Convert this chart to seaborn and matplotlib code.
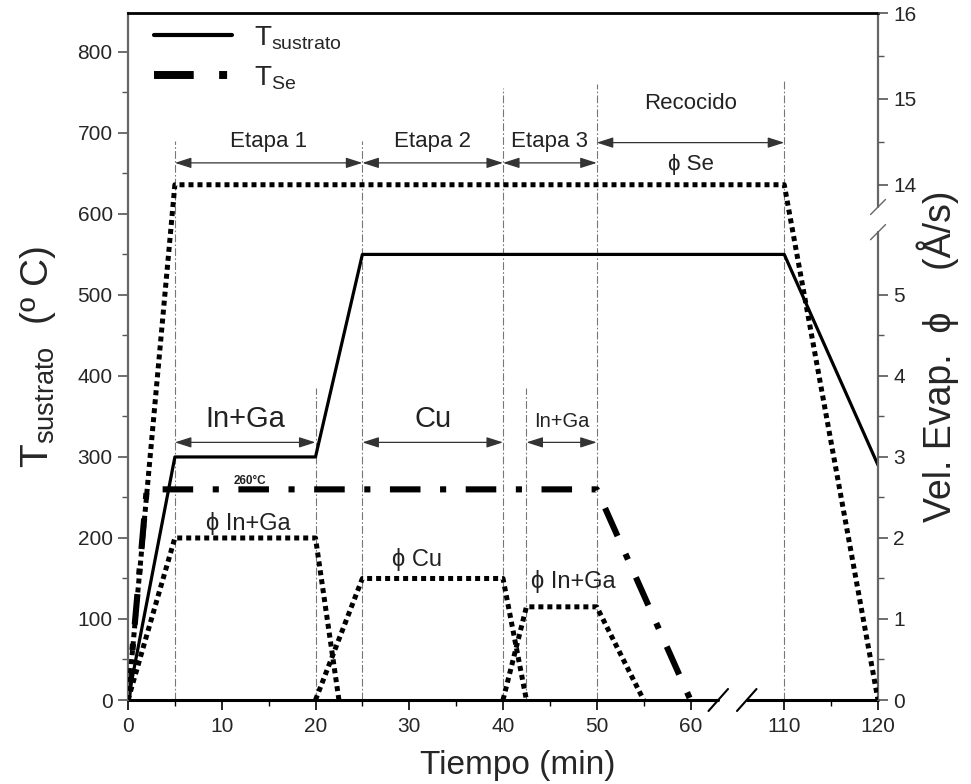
import numpy as np
import matplotlib
matplotlib.use("Agg")
import matplotlib.pyplot as plt
import seaborn as sns

# ---- process profile (time in min) ----
t_sub = [0, 5, 20, 25, 110, 120]
temp_sub = [0, 300, 300, 550, 550, 290]          # substrate temperature (ºC)

t_se_src = [0, 2, 50, 60]
temp_se_src = [0, 260, 260, 0]                   # Se source temperature (ºC)

t_flux_se = [0, 5, 110, 120]
flux_se = [0, 14, 14, 0]                         # Se evaporation rate (Å/s)

t_flux_inga1 = [0, 5, 20, 22.5]
flux_inga1 = [0, 2, 2, 0]                        # In+Ga rate, stage 1

t_flux_cu = [20, 25, 40, 42.5]
flux_cu = [0, 1.5, 1.5, 0]                       # Cu rate, stage 2

t_flux_inga3 = [40, 42.5, 50, 55]
flux_inga3 = [0, 1.15, 1.15, 0]                  # In+Ga rate, stage 3

x_ticks = [0, 10, 20, 30, 40, 50, 60, 110, 120]
x_minor = [5, 15, 25, 35, 45, 55, 115]
left_ticks = [0, 100, 200, 300, 400, 500, 600, 700, 800]
left_minor = [50, 150, 250, 350, 450, 550, 650, 750]
right_ticks = [0, 1, 2, 3, 4, 5, 14, 15, 16]
right_minor = [0.5, 1.5, 2.5, 3.5, 4.5, 14.5, 15.5]

guide_x = [5, 20, 25, 40, 42.5, 50, 110]
guide_top = [690, 385, 690, 755, 385, 760, 765]

stage_labels = ["Etapa 1", "Etapa 2", "Etapa 3"]
stage_start = [5, 25, 40]
stage_end = [25, 40, 50]

source_labels = ["In+Ga", "Cu", "In+Ga"]
source_start = [5, 25, 42.5]
source_end = [20, 40, 50]
source_size = [21, 21, 14.5]

# ---- style ----
sns.set_style("ticks")
plt.rcParams["font.family"] = ["Liberation Sans", "DejaVu Sans"]
plt.rcParams["mathtext.fontset"] = "custom"
plt.rcParams["mathtext.rm"] = "Liberation Sans"
plt.rcParams["mathtext.it"] = "Liberation Sans:italic"
plt.rcParams["mathtext.bf"] = "Liberation Sans:bold"
plt.rcParams["mathtext.sf"] = "Liberation Sans"


# broken time axis: 60-110 min squeezed into one decade
def time_fwd(t):
    t = np.asarray(t, dtype=float)
    return np.where(t <= 60, t, np.where(t >= 110, t - 40, 60 + (t - 60) / 5.0))


def time_inv(u):
    u = np.asarray(u, dtype=float)
    return np.where(u <= 60, u, np.where(u >= 70, u + 40, 60 + (u - 60) * 5.0))


# broken rate axis: 5.5-14 Å/s squeezed
def rate_fwd(v):
    v = np.asarray(v, dtype=float)
    return np.where(v <= 5.5, v * 100.0,
                    np.where(v >= 14, 636 + (v - 14) * 106.0,
                             550 + (v - 5.5) * (86 / 8.5)))


def rate_inv(h):
    h = np.asarray(h, dtype=float)
    return np.where(h <= 550, h / 100.0,
                    np.where(h >= 636, 14 + (h - 636) / 106.0,
                             5.5 + (h - 550) * (8.5 / 86)))


fig = plt.figure(figsize=(9.71, 7.84), dpi=100)
ax = fig.add_axes([128 / 971, 1 - 700 / 784, 750 / 971, 687 / 784])
ax.set_xscale("function", functions=(time_fwd, time_inv))
ax.set_xlim(0, 120)
ax.set_ylim(0, 848)

ax2 = ax.twinx()
ax2.set_yscale("function", functions=(rate_fwd, rate_inv))
ax2.set_ylim(0, 16)

# vertical guides
ax.vlines(guide_x, 0, guide_top, colors="#777777", lw=0.8,
          linestyles=[(0, (7, 2, 1.5, 2))], zorder=1)

# temperature curves
dashdot = (0, (5, 3.2, 1, 3.2))
sns.lineplot(x=t_sub, y=temp_sub, ax=ax, color="black", lw=2.3,
             sort=False, estimator=None, label=r"T$_{\mathrm{sustrato}}$", legend=False)
sns.lineplot(x=t_se_src, y=temp_se_src, ax=ax, color="black", lw=4.4,
             linestyle=dashdot, dash_capstyle="butt",
             sort=False, estimator=None, label=r"T$_{\mathrm{Se}}$", legend=False)

# evaporation rates
dotted = (0, (1.0, 0.8))
for tt, ff in [(t_flux_se, flux_se), (t_flux_inga1, flux_inga1),
               (t_flux_cu, flux_cu), (t_flux_inga3, flux_inga3)]:
    sns.lineplot(x=tt, y=ff, ax=ax2, color="black", lw=3.6, linestyle=dotted,
                 dash_capstyle="butt", sort=False, estimator=None, legend=False)

arrow_kw = dict(arrowstyle="<|-|>,head_length=1.0,head_width=0.32",
                color="#333333", lw=0.9, shrinkA=0, shrinkB=0)

# stage arrows
for lab, a, b in zip(stage_labels, stage_start, stage_end):
    ax.annotate("", xy=(b, 663), xytext=(a, 663), arrowprops=arrow_kw)
    ax.text(float(time_inv((time_fwd(a) + time_fwd(b)) / 2)), 683, lab,
            ha="center", va="baseline", fontsize=16, color="#222222")

# annealing
ax.annotate("", xy=(110, 688), xytext=(50, 688), arrowprops=arrow_kw)
ax.text(60, 729, "Recocido", ha="center", va="baseline", fontsize=16, color="#222222")
ax.text(60, 654, "\u03d5 Se", ha="center", va="baseline", fontsize=16, color="#222222")

# source arrows
for lab, a, b, fs in zip(source_labels, source_start, source_end, source_size):
    ax.annotate("", xy=(b, 318), xytext=(a, 318), arrowprops=arrow_kw)
    ax.text((a + b) / 2, 337, lab, ha="center", va="baseline", fontsize=fs,
            color="#222222")

ax.text(13, 267, "260°C", ha="center", va="baseline", fontsize=8.5,
        fontweight="bold", color="#222222")
ax.text(12.8, 210, "\u03d5 In+Ga", ha="center", va="baseline", fontsize=17, color="#222222")
ax.text(30.8, 166, "\u03d5 Cu", ha="center", va="baseline", fontsize=17, color="#222222")
ax.text(47.5, 138, "\u03d5 In+Ga", ha="center", va="baseline", fontsize=17, color="#222222")

# ticks
ax.set_xticks(x_ticks)
ax.set_xticklabels([str(v) for v in x_ticks])
ax.set_xticks(x_minor, minor=True)
ax.set_yticks(left_ticks)
ax.set_yticks(left_minor, minor=True)
ax2.set_yticks(right_ticks)
ax2.set_yticklabels([str(v) for v in right_ticks])
ax2.set_yticks(right_minor, minor=True)

ax.tick_params(axis="x", which="major", direction="out", length=7, width=1.2,
               color="black", labelsize=15, pad=5)
ax.tick_params(axis="x", which="minor", direction="out", length=4, width=1.0, color="black")
ax.tick_params(axis="y", which="major", direction="out", length=7, width=1.2,
               color="#555555", labelsize=15, pad=4)
ax.tick_params(axis="y", which="minor", direction="out", length=4, width=1.0, color="#555555")
ax2.tick_params(axis="y", which="major", direction="out", length=7, width=1.2,
                color="#555555", labelsize=15, pad=4)
ax2.tick_params(axis="y", which="minor", direction="out", length=4, width=1.0, color="#555555")

# spines
for sp in ["left", "right", "top", "bottom"]:
    ax2.spines[sp].set_visible(False)
ax.spines["right"].set_visible(False)
ax.spines["bottom"].set_visible(False)
ax.spines["left"].set_color("#666666")
ax.spines["left"].set_linewidth(1.6)
ax.spines["top"].set_color("black")
ax.spines["top"].set_linewidth(2.0)

tr = ax.transAxes
# bottom axis line with break
ax.plot([0, 0.787], [0, 0], color="black", lw=2.2, transform=tr, clip_on=False)
ax.plot([0.825, 1], [0, 0], color="black", lw=2.2, transform=tr, clip_on=False)
for cx in [0.787, 0.825]:
    ax.plot([cx - 0.013, cx + 0.013], [-0.016, 0.016], color="black", lw=1.5,
            transform=tr, clip_on=False)
# right axis line with break
ax.plot([1, 1], [0, 0.681], color="#666666", lw=1.6, transform=tr, clip_on=False)
ax.plot([1, 1], [0.7176, 1], color="#666666", lw=1.6, transform=tr, clip_on=False)
for cy in [0.681, 0.7176]:
    ax.plot([0.99, 1.01], [cy - 0.011, cy + 0.011], color="#666666", lw=1.0,
            transform=tr, clip_on=False)

# labels
ax.set_xlabel("Tiempo (min)", fontsize=24, labelpad=10)
ax.xaxis.label.set_x(0.52)
ax.set_ylabel(r"T$_{\mathrm{sustrato}}$  (º C)", fontsize=28, labelpad=14)
ax2.set_ylabel("Vel. Evap.  \u03d5    (Å/s)", fontsize=27, labelpad=0)

leg = ax.legend(loc="upper left", bbox_to_anchor=(0.02, 1.0), frameon=False,
                fontsize=20, handlelength=2.8, handletextpad=0.8,
                labelspacing=0.45, borderaxespad=0)
for h in leg.get_lines():
    h.set_linewidth(h.get_linewidth() * 1.3)

fig.savefig("out.png", dpi=100)
